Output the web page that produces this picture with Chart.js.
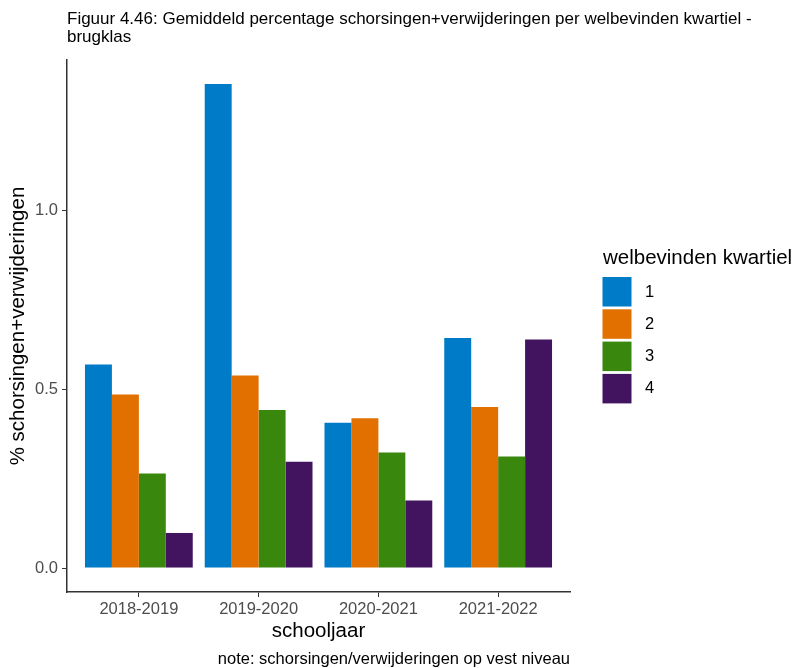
<!DOCTYPE html>
<html>
<head>
<meta charset="utf-8">
<script src="https://cdn.jsdelivr.net/npm/chart.js@4.4.1/dist/chart.umd.min.js"></script>
<style>
  html, body { margin: 0; padding: 0; background: #fff; }
</style>
</head>
<body>
<canvas id="chart" width="795" height="668"></canvas>
<script>
/* data */
const schooljaren = ['2018-2019', '2019-2020', '2020-2021', '2021-2022'];
const kwartielen = ['1', '2', '3', '4'];
const kwartiel1 = [0.569, 1.353, 0.406, 0.643];
const kwartiel2 = [0.485, 0.538, 0.419, 0.450];
const kwartiel3 = [0.264, 0.442, 0.323, 0.312];
const kwartiel4 = [0.098, 0.297, 0.189, 0.639];
const yTicks = [0, 0.5, 1.0];

const kleuren = ['#007BC7', '#E17000', '#39870C', '#42145F'];
const FONT = "'Liberation Sans', Arial, sans-serif";

const reeksen = [kwartiel1, kwartiel2, kwartiel3, kwartiel4];

const datasets = reeksen.map((waarden, k) => ({
  label: kwartielen[k],
  backgroundColor: kleuren[k],
  borderWidth: 0,
  categoryPercentage: 0.9,
  barPercentage: 1.0,
  data: waarden.map((v, i) => ({ x: i + 1, y: v })),
}));

/* title, caption and legend drawn like the ggplot output */
const tekstPlugin = {
  id: 'tekst',
  afterDraw(chart) {
    const ctx = chart.ctx;
    const area = chart.chartArea;
    ctx.save();
    ctx.fillStyle = '#000';
    ctx.textBaseline = 'middle';

    ctx.font = '17px ' + FONT;
    ctx.textAlign = 'left';
    ctx.fillText('Figuur 4.46: Gemiddeld percentage schorsingen+verwijderingen per welbevinden kwartiel -', area.left, 19);
    ctx.fillText('brugklas', area.left, 37);

    ctx.font = '16.5px ' + FONT;
    ctx.textAlign = 'right';
    ctx.fillText('note: schorsingen/verwijderingen op vest niveau', area.right, 659);

    // legend
    ctx.textAlign = 'left';
    ctx.font = '20.5px ' + FONT;
    ctx.fillText('welbevinden kwartiel', 603, 258);
    ctx.font = '16.5px ' + FONT;
    chart.data.datasets.forEach((ds, i) => {
      const y = 277 + i * 32.3;
      ctx.fillStyle = ds.backgroundColor;
      ctx.fillRect(602.5, y, 29, 29.5);
      ctx.fillStyle = '#000';
      ctx.fillText(ds.label, 645, y + 15);
    });
    ctx.restore();
  },
};

new Chart(document.getElementById('chart'), {
  type: 'bar',
  data: { datasets: datasets },
  plugins: [tekstPlugin],
  options: {
    responsive: false,
    animation: false,
    layout: { padding: { top: 60, right: 225, bottom: 24, left: 0 } },
    plugins: {
      legend: { display: false },
      tooltip: { enabled: false },
    },
    scales: {
      x: {
        type: 'linear',
        min: 0.4,
        max: 4.6,
        offset: false,
        afterBuildTicks: (scale) => {
          scale.ticks = schooljaren.map((_, i) => ({ value: i + 1 }));
        },
        afterFit: (scale) => { scale.height = 52; },
        grid: {
          display: true,
          offset: false,
          drawOnChartArea: false,
          drawTicks: true,
          tickLength: 5,
          color: '#333',
          lineWidth: 1,
        },
        border: { display: true, color: '#333', width: 1.5 },
        ticks: {
          color: '#4d4d4d',
          font: { family: FONT, size: 16.5 },
          padding: 3,
          maxRotation: 0,
          callback: (v) => schooljaren[Math.round(v) - 1],
        },
        title: {
          display: true,
          text: 'schooljaar',
          color: '#000',
          font: { family: FONT, size: 20.5 },
          padding: { top: 0, bottom: 0 },
        },
      },
      y: {
        min: -0.067,
        max: 1.42,
        afterBuildTicks: (scale) => {
          scale.ticks = yTicks.map((v) => ({ value: v }));
        },
        afterFit: (scale) => { scale.width = 67; },
        grid: {
          display: true,
          drawOnChartArea: false,
          drawTicks: true,
          tickLength: 5,
          color: '#333',
          lineWidth: 1,
        },
        border: { display: true, color: '#333', width: 1.5 },
        ticks: {
          color: '#4d4d4d',
          font: { family: FONT, size: 16.5 },
          padding: 4,
          callback: (v) => v.toFixed(1),
        },
        title: {
          display: true,
          text: '% schorsingen+verwijderingen',
          color: '#000',
          font: { family: FONT, size: 20.5 },
          padding: { top: 6, bottom: 0 },
        },
      },
    },
  },
});
</script>
</body>
</html>
